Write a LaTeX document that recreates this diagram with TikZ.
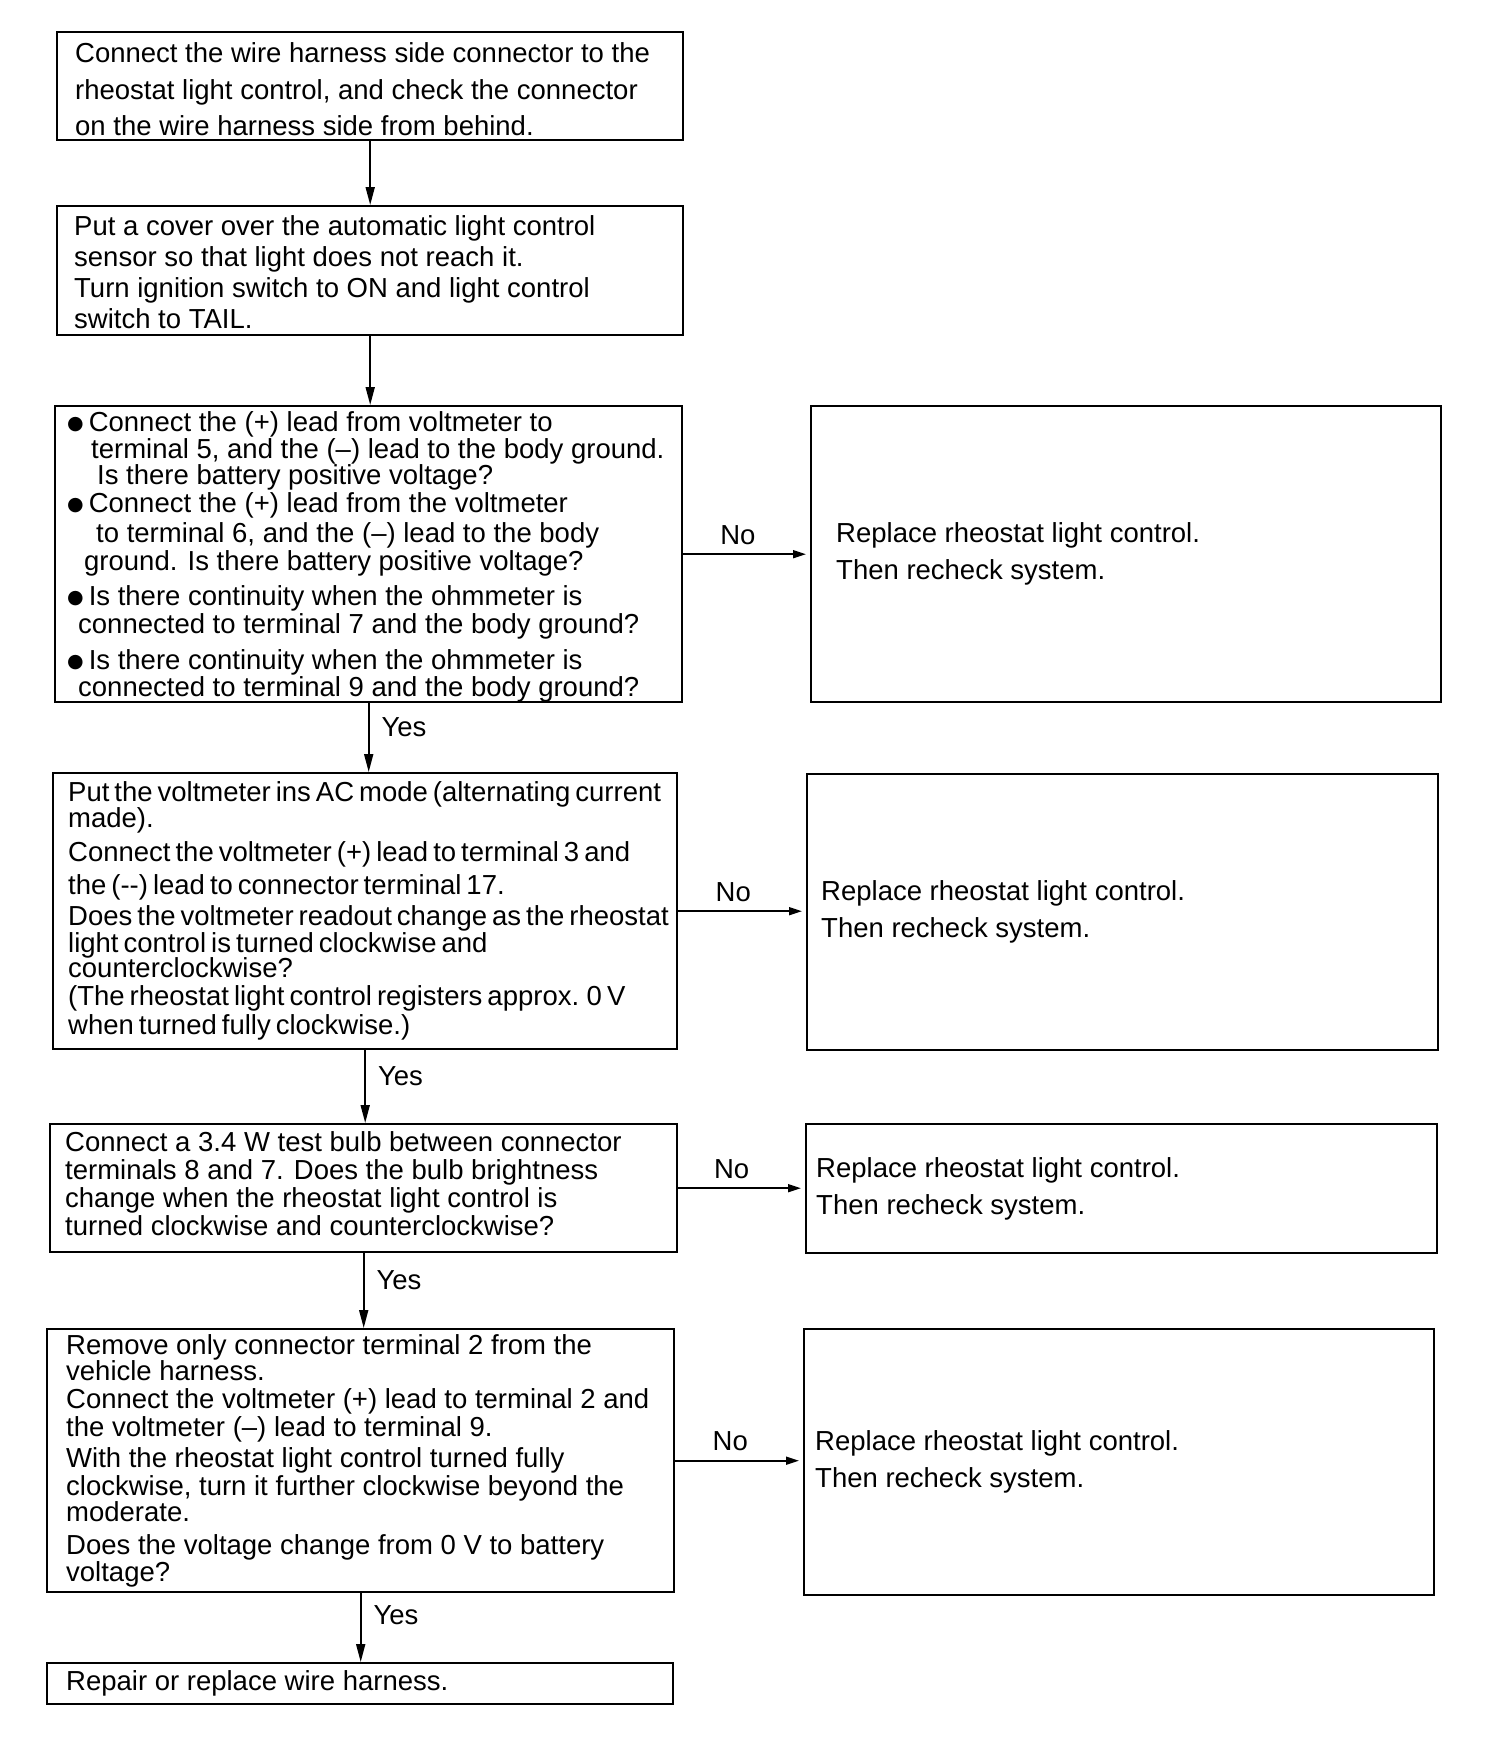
\documentclass[tikz,border=0pt]{standalone}
\usepackage{fontspec}
\setmainfont{Liberation Sans}
\newfontfamily\symfont{DejaVu Sans}
\usetikzlibrary{arrows.meta}
\newcommand{\bul}{\raisebox{2.5pt}{\symfont\fontsize{19}{19}\selectfont ●}}
\newcommand{\tightsp}{\spaceskip=5pt plus 1pt minus 1pt\relax}
\begin{document}
\begin{tikzpicture}[x=1pt,y=-1pt,
  boxstyle/.style={draw, line width=2.4pt, inner sep=0pt, anchor=north west},
  txt/.style={align=left, inner sep=0pt, anchor=west},
  vflow/.style={line width=1.8pt, -{Triangle[length=18pt,width=9pt]}},
  hflow/.style={line width=1.8pt, -{Triangle[length=13pt,width=8pt]}, shorten >=4pt},
  lab/.style={inner sep=0pt, font=\fontsize{27.5}{30}\selectfont}
]
\useasboundingbox (0,0) rectangle (1504,1756);
\fill[white] (0,0) rectangle (1504,1756);

% left column boxes
\node[boxstyle, minimum width=626, minimum height=108] (b1) at (56,31) {};
\node[boxstyle, minimum width=626, minimum height=129] (b2) at (56,205) {};
\node[boxstyle, minimum width=627, minimum height=296] (b3) at (54,405) {};
\node[boxstyle, minimum width=624, minimum height=276] (b4) at (52,772) {};
\node[boxstyle, minimum width=627, minimum height=128] (b5) at (49,1123) {};
\node[boxstyle, minimum width=627, minimum height=263] (b6) at (46,1328) {};
\node[boxstyle, minimum width=626, minimum height=41] (b7) at (46,1662) {};
% right column boxes
\node[boxstyle, minimum width=630, minimum height=296] (r3) at (810,405) {};
\node[boxstyle, minimum width=631, minimum height=276] (r4) at (806,773) {};
\node[boxstyle, minimum width=631, minimum height=129] (r5) at (805,1123) {};
\node[boxstyle, minimum width=630, minimum height=266] (r6) at (803,1328) {};

% texts (yshift is in canvas units: positive moves up)
\node[txt, font=\fontsize{27.5}{36.5}\selectfont, yshift=-3] (t1) at ([xshift=19]b1.west)
{Connect the wire harness side connector to the\\
rheostat light control, and check the connector\\
on the wire harness side from behind.};

\node[txt, font=\fontsize{27.5}{31}\selectfont, yshift=-1] (t2) at ([xshift=18]b2.west)
{Put a cover over the automatic light control\\
sensor so that light does not reach it.\\
Turn ignition switch to ON and light control\\
switch to TAIL.};

\node[txt, font=\fontsize{27.5}{26.5}\selectfont, yshift=-2.5] (t3) at ([xshift=13]b3.west)
{\bul\hspace{5pt}Connect the (+) lead from voltmeter to\\
\hspace{24pt}terminal 5, and the (–) lead to the body ground.\\
\hspace{30pt}Is there battery positive voltage?\\[1.5pt]
\bul\hspace{5pt}Connect the (+) lead from the voltmeter\\[3.5pt]
\hspace{29pt}to terminal 6, and the (–) lead to the body\\[1.5pt]
\hspace{17pt}ground. Is there battery positive voltage?\\[8.5pt]
\bul\hspace{5pt}Is there continuity when the ohmmeter is\\[1.5pt]
\hspace{11pt}connected to terminal 7 and the body ground?\\[9.5pt]
\bul\hspace{5pt}Is there continuity when the ohmmeter is\\
\hspace{11pt}connected to terminal 9 and the body ground?};

\node[txt, font=\fontsize{27.5}{28.5}\selectfont\tightsp, yshift=0.5] (t4) at ([xshift=16]b4.west)
{Put the voltmeter ins AC mode (alternating current\\[-2.5pt]
made).\\[6pt]
Connect the voltmeter (+) lead to terminal 3 and\\[4pt]
the (-{}-) lead to connector terminal 17.\\[3pt]
Does the voltmeter readout change as the rheostat\\[-1.5pt]
light control is turned clockwise and\\[-4pt]
counterclockwise?\\[-0.5pt]
(The rheostat light control registers approx. 0 V\\[0.5pt]
when turned fully clockwise.)};

\node[txt, font=\fontsize{27.5}{28}\selectfont, yshift=5] (t5) at ([xshift=16]b5.west)
{Connect a 3.4 W test bulb between connector\\
terminals 8 and 7. Does the bulb brightness\\
change when the rheostat light control is\\
turned clockwise and counterclockwise?};

\node[txt, font=\fontsize{27.5}{27}\selectfont] (t6) at ([xshift=20]b6.west)
{Remove only connector terminal 2 from the\\[-1pt]
vehicle harness.\\[1pt]
Connect the voltmeter (+) lead to terminal 2 and\\[1pt]
the voltmeter (–) lead to terminal 9.\\[4pt]
With the rheostat light control turned fully\\[1pt]
clockwise, turn it further clockwise beyond the\\[-1pt]
moderate.\\[6.5pt]
Does the voltage change from 0 V to battery\\
voltage?};

\node[txt, font=\fontsize{27.5}{30}\selectfont] (t7) at ([xshift=20]b7.west)
{Repair or replace wire harness.};

\node[txt, font=\fontsize{27.5}{37}\selectfont] (u3) at ([xshift=26]r3.west)
{Replace rheostat light control.\\ Then recheck system.};
\node[txt, font=\fontsize{27.5}{37}\selectfont] (u4) at ([xshift=15]r4.west)
{Replace rheostat light control.\\ Then recheck system.};
\node[txt, font=\fontsize{27.5}{37}\selectfont] (u5) at ([xshift=11]r5.west)
{Replace rheostat light control.\\ Then recheck system.};
\node[txt, font=\fontsize{27.5}{37}\selectfont] (u6) at ([xshift=12]r6.west)
{Replace rheostat light control.\\ Then recheck system.};

% vertical connectors
\draw[vflow] (b1.south) -- (b1.south |- b2.north);
\draw[vflow] (b2.south) -- (b2.south |- b3.north);
\draw[vflow] (b3.south) -- (b3.south |- b4.north)
  node[lab, right, pos=0.35, xshift=12pt] (y3) {Yes};
\draw[vflow] (b4.south) -- (b4.south |- b5.north)
  node[lab, right, pos=0.36, xshift=12pt] (y4) {Yes};
\draw[vflow] (b5.south) -- (b5.south |- b6.north)
  node[lab, right, pos=0.36, xshift=12pt] (y5) {Yes};
\draw[vflow] (b6.south) -- (b6.south |- b7.north)
  node[lab, right, pos=0.32, xshift=12pt] (y6) {Yes};

% horizontal connectors
\draw[hflow] (b3.east) -- (b3.east -| r3.west)
  node[lab, above=9pt, pos=0.43] (n3) {No};
\draw[hflow] (b4.east) -- (b4.east -| r4.west)
  node[lab, above=9pt, pos=0.43] (n4) {No};
\draw[hflow] (b5.east) -- (b5.east -| r5.west)
  node[lab, above=9pt, pos=0.42] (n5) {No};
\draw[hflow] (b6.east) -- (b6.east -| r6.west)
  node[lab, above=9pt, pos=0.43] (n6) {No};
\end{tikzpicture}
\end{document}
